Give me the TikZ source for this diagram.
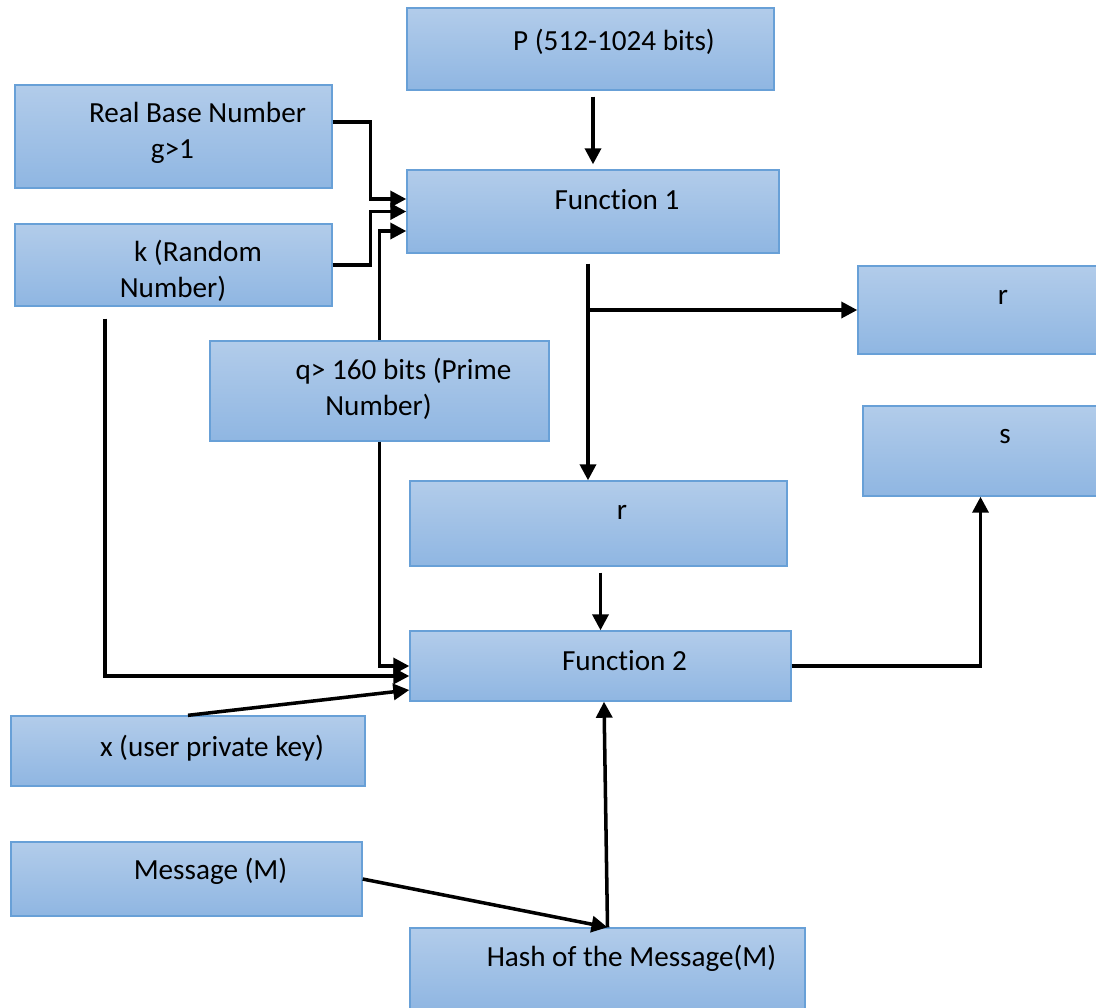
\documentclass[tikz,border=0pt]{standalone}
\usepackage{fontspec}
\setmainfont[Ligatures={NoCommon}]{Carlito}
\usetikzlibrary{arrows.meta,shadings}

\definecolor{boxtop}{RGB}{178,204,234}
\definecolor{boxbot}{RGB}{143,182,226}
\definecolor{boxline}{RGB}{104,160,215}

\tikzset{
	blockbox/.style={rectangle, draw=boxline, line width=0.8pt, top color=boxtop, bottom color=boxbot, inner sep=0pt},
	txt/.style={anchor=center, inner sep=0pt, align=center, font=\fontsize{16.6}{20.4}\selectfont},
	arr/.style={line width=2pt, -{Triangle[length=0.32cm, width=0.32cm]}}
}

\begin{document}
\begin{tikzpicture}
				\useasboundingbox (0,0) rectangle (21.92,-20.14);
				
				% boxes
				\node[blockbox, minimum width=7.34cm, minimum height=1.64cm] (pbits) at (11.81,-0.98) {};
				\node[blockbox, minimum width=6.34cm, minimum height=2.06cm] (base) at (3.47,-2.73) {};
				\node[blockbox, minimum width=6.34cm, minimum height=1.64cm] (rand) at (3.47,-5.30) {};
				\node[blockbox, minimum width=7.44cm, minimum height=1.66cm] (fone) at (11.86,-4.23) {};
				\node[blockbox, minimum width=4.80cm, minimum height=1.76cm] (rtop) at (19.56,-6.20) {};
				\node[blockbox, minimum width=6.78cm, minimum height=2.00cm] (prime) at (7.59,-7.82) {};
				\node[blockbox, minimum width=4.70cm, minimum height=1.80cm] (sig) at (19.61,-9.02) {};
				\node[blockbox, minimum width=7.54cm, minimum height=1.70cm] (rmid) at (11.97,-10.47) {};
				\node[blockbox, minimum width=7.62cm, minimum height=1.40cm] (ftwo) at (12.01,-13.32) {};
				\node[blockbox, minimum width=7.08cm, minimum height=1.40cm] (xkey) at (3.76,-15.02) {};
				\node[blockbox, minimum width=7.02cm, minimum height=1.48cm] (msg) at (3.73,-17.58) {};
				\node[blockbox, minimum width=7.90cm, minimum height=1.64cm] (hash) at (12.15,-19.38) {};
				
				% texts
				\node[txt] (pbitstxt) at (12.28,-0.84) {P (512-1024 bits)};
				\node[txt] (basetxt) at (3.95,-2.65) {Real Base Number\\g>1\hspace*{1cm}};
				\node[txt] (randtxt) at (3.96,-5.41) {k (Random\\Number)\hspace*{1cm}};
				\node[txt] (fonetxt) at (12.34,-4.00) {Function 1};
				\node[txt] (rtoptxt) at (20.06,-5.94) {r};
				\node[txt] (primetxt) at (8.07,-7.77) {q> 160 bits (Prime\\Number)\hspace*{1cm}};
				\node[txt] (sigtxt) at (20.10,-8.74) {s};
				\node[txt] (rmidtxt) at (12.44,-10.24) {r};
				\node[txt] (ftwotxt) at (12.49,-13.22) {Function 2};
				\node[txt] (xkeytxt) at (4.24,-14.96) {x (user private key)};
				\node[txt] (msgtxt) at (4.21,-17.42) {Message (M)};
				\node[txt] (hashtxt) at (12.63,-19.16) {Hash of the Message(M)};
				
				\coordinate (split) at ([xshift=-0.1cm]fone.south |- rtop.west);
				
				% into function 1
				\draw[arr, shorten <=0.12cm, shorten >=0.1cm] (fone.north |- pbits.south) -- (fone.north);
				\draw[arr] ([yshift=0.29cm]base.east) -- ++(0.76,0) |- ([yshift=0.25cm]fone.west);
				\draw[arr] (rand.east) -- ++(0.76,0) |- (fone.west);
				\draw[arr] (prime.north) |- ([yshift=-0.39cm]fone.west);
				
				% out of function 1
				\draw[arr] ([xshift=-0.1cm,yshift=-0.2cm]fone.south) -- (split) -- (split |- rmid.north);
				\draw[arr] (split) -- (rtop.west);
				
				% into function 2
				\draw[arr, shorten <=0.12cm] (ftwo.north |- rmid.south) -- (ftwo.north);
				\draw[arr] ([xshift=-1.37cm,yshift=-0.24cm]rand.south) |- ([yshift=-0.2cm]ftwo.west);
				\draw[arr] (prime.south) |- (ftwo.west);
				\draw[arr] (xkey.north) -- ([yshift=-0.48cm]ftwo.west);
				\draw[arr] (hash.north) -- ([xshift=0.07cm]ftwo.south);
				\draw[arr] (msg.east) -- (hash.north);
				
				% out of function 2
				\draw[arr] (ftwo.east) -| (sig.south);
\end{tikzpicture}
\end{document}
